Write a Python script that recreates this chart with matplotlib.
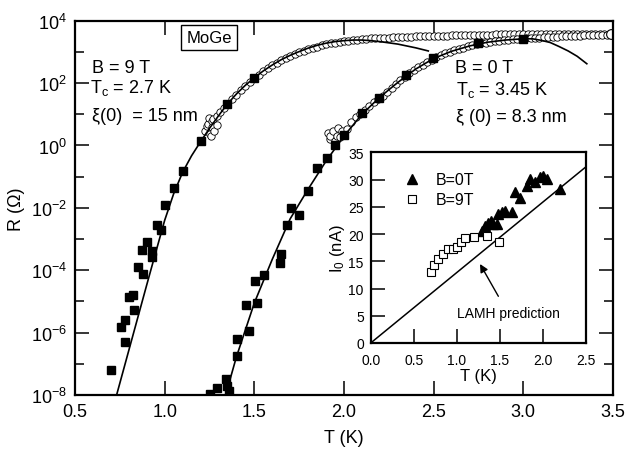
import matplotlib
matplotlib.use('Agg')
import matplotlib.pyplot as plt
import numpy as np
from matplotlib.ticker import FixedLocator, FuncFormatter, NullFormatter

plt.rcParams['font.family'] = ['Liberation Sans', 'DejaVu Sans']
plt.rcParams['mathtext.fontset'] = 'custom'
plt.rcParams['mathtext.rm'] = 'Liberation Sans'
plt.rcParams['mathtext.it'] = 'Liberation Sans:italic'
plt.rcParams['mathtext.sf'] = 'Liberation Sans'

# ---------------- main panel data (log10 R) ----------------
# B = 9 T, filled squares
sq9_T = [0.701, 0.779, 0.755, 0.779, 0.829, 0.803, 0.825, 0.878, 0.853, 0.928, 0.928,
         0.875, 0.903, 0.978, 0.956, 1.002, 1.054, 1.104, 1.201, 1.349, 1.498]
sq9_logR = [-7.19, -6.29, -5.83, -5.58, -5.27, -4.85, -4.81, -4.12, -3.90, -3.58, -3.39,
            -3.34, -3.10, -2.70, -2.55, -1.91, -1.36, -0.81, 0.13, 1.33, 2.16]

# B = 0 T, filled squares
sq0_T = [1.253, 1.290, 1.342, 1.350, 1.358, 1.402, 1.402, 1.470, 1.452, 1.517, 1.504,
         1.554, 1.643, 1.649, 1.682, 1.751, 1.703, 1.801, 1.851, 1.903, 1.950, 2.001,
         2.099, 2.197, 2.348, 2.498, 2.749, 2.999]
sq0_logR = [-7.96, -7.78, -7.50, -7.72, -7.88, -6.74, -6.22, -5.95, -5.13, -5.05, -4.34,
            -4.15, -3.78, -3.48, -2.55, -2.23, -2.00, -1.47, -0.72, -0.41, 0.02, 0.34,
            1.04, 1.52, 2.26, 2.79, 3.28, 3.41]

# B = 9 T, open circles (high-R measurement)
ci9_T = [1.225, 1.234, 1.240, 1.247, 1.253, 1.258, 1.262, 1.266, 1.271, 1.275, 1.290, 1.294,
         1.309, 1.333,
         1.350, 1.375, 1.400, 1.425, 1.450, 1.475, 1.500, 1.525, 1.550, 1.575, 1.600, 1.625,
         1.650, 1.675, 1.700, 1.725, 1.750, 1.775, 1.800, 1.825, 1.850, 1.875, 1.900, 1.925,
         1.950, 1.975, 2.000, 2.025, 2.050, 2.075, 2.100, 2.125, 2.150, 2.175, 2.200, 2.225,
         2.250, 2.275, 2.300, 2.325, 2.350, 2.375, 2.400, 2.425, 2.450, 2.475, 2.500, 2.525,
         2.550, 2.575, 2.600, 2.625, 2.650, 2.675, 2.700, 2.725, 2.750, 2.775, 2.800, 2.825,
         2.850, 2.875, 2.900, 2.925, 2.950, 2.975, 3.000, 3.025, 3.050, 3.075, 3.100, 3.125,
         3.150, 3.175, 3.200, 3.225, 3.250, 3.275, 3.300, 3.325, 3.350, 3.375, 3.400, 3.425,
         3.450, 3.475, 3.500]
ci9_logR = [0.47, 0.63, 0.69, 0.88, 0.37, 0.31, 0.79, 0.60, 0.85, 0.47, 0.96, 0.66,
            1.06, 1.19,
            1.33, 1.48, 1.63, 1.77, 1.91, 2.04, 2.16, 2.27, 2.38, 2.48, 2.57, 2.65,
            2.73, 2.80, 2.87, 2.93, 2.99, 3.04, 3.09, 3.13, 3.17, 3.21, 3.24, 3.27,
            3.30, 3.32, 3.34, 3.36, 3.38, 3.39, 3.41, 3.42, 3.43, 3.44, 3.45, 3.46,
            3.46, 3.47, 3.48, 3.48, 3.49, 3.49, 3.50, 3.50, 3.51, 3.51, 3.51, 3.52,
            3.52, 3.52, 3.53, 3.53, 3.53, 3.54, 3.54, 3.54, 3.55, 3.55, 3.55, 3.55,
            3.56, 3.56, 3.56, 3.56, 3.56, 3.56, 3.57, 3.57, 3.57, 3.57, 3.57, 3.57,
            3.57, 3.57, 3.58, 3.58, 3.58, 3.58, 3.58, 3.58, 3.58, 3.58, 3.58, 3.58,
            3.58, 3.58, 3.58]

# B = 0 T, open circles
ci0_T = [1.913, 1.922, 1.922, 1.941, 1.950, 1.959, 1.969, 1.978, 1.987,
         2.015, 2.040, 2.065, 2.090, 2.115, 2.140, 2.165, 2.190, 2.215, 2.240, 2.265,
         2.290, 2.315, 2.340, 2.365, 2.390, 2.415, 2.440, 2.465, 2.490, 2.515, 2.540,
         2.565, 2.590, 2.615, 2.640, 2.665, 2.690, 2.715, 2.740, 2.765, 2.790, 2.815,
         2.840, 2.865, 2.890, 2.915, 2.940, 2.965, 2.990, 3.015, 3.040, 3.065, 3.090,
         3.115, 3.140, 3.165, 3.190, 3.215, 3.240, 3.265, 3.290, 3.315, 3.340, 3.365,
         3.390, 3.415, 3.440, 3.465, 3.490]
ci0_logR = [0.40, 0.21, 0.31, 0.47, 0.15, 0.31, 0.55, 0.26, 0.47,
            0.53, 0.74, 0.90, 1.02, 1.15, 1.27, 1.38, 1.49, 1.60, 1.72, 1.85,
            1.97, 2.09, 2.21, 2.31, 2.41, 2.50, 2.59, 2.67, 2.75, 2.83, 2.89,
            2.95, 3.00, 3.05, 3.10, 3.14, 3.18, 3.21, 3.24, 3.27, 3.30, 3.32,
            3.34, 3.36, 3.37, 3.39, 3.40, 3.41, 3.42, 3.43, 3.44, 3.45, 3.46,
            3.47, 3.48, 3.49, 3.49, 3.50, 3.51, 3.51, 3.52, 3.52, 3.53, 3.53,
            3.54, 3.54, 3.55, 3.55, 3.56]

# fit curves
fit9_T = [0.732, 0.80, 0.90, 0.95, 1.00, 1.05, 1.10, 1.15, 1.20, 1.25, 1.30, 1.35, 1.40,
          1.45, 1.50, 1.55, 1.60, 1.65, 1.70, 1.75, 1.80, 1.85, 1.90, 1.95, 2.00, 2.05,
          2.10, 2.15, 2.20, 2.25, 2.30, 2.35, 2.40, 2.47]
fit9_logR = [-8.00, -6.57, -4.47, -3.43, -2.40, -1.55, -0.86, -0.33, 0.12, 0.55, 0.95,
             1.33, 1.65, 1.93, 2.17, 2.39, 2.58, 2.75, 2.89, 3.01, 3.12, 3.21, 3.28,
             3.33, 3.36, 3.38, 3.38, 3.36, 3.33, 3.29, 3.25, 3.19, 3.13, 3.03]

fit0_T = [1.340, 1.40, 1.50, 1.60, 1.70, 1.80, 1.90, 2.00, 2.10, 2.20, 2.30, 2.40, 2.50,
          2.60, 2.70, 2.80, 2.90, 3.00, 3.05, 3.10, 3.15, 3.20, 3.25, 3.30, 3.354]
fit0_logR = [-8.00, -6.78, -5.05, -3.65, -2.35, -1.40, -0.50, 0.30, 1.00, 1.55, 2.02,
             2.45, 2.79, 3.02, 3.19, 3.31, 3.38, 3.42, 3.42, 3.37, 3.30, 3.17, 3.03,
             2.86, 2.62]

# ---------------- inset data ----------------
I0_T = [1.290, 1.329, 1.368, 1.399, 1.426, 1.465, 1.484, 1.523, 1.562, 1.640, 1.678,
        1.736, 1.814, 1.852, 1.910, 1.969, 2.007, 2.047, 2.201]
I0_nA = [20.6, 21.5, 22.1, 22.4, 21.8, 21.8, 23.7, 24.0, 24.3, 24.0, 27.7,
         26.7, 28.9, 30.1, 29.5, 30.4, 30.7, 30.1, 28.3]
I9_T = [0.701, 0.740, 0.786, 0.845, 0.903, 0.961, 1.007, 1.046, 1.097, 1.201, 1.349, 1.496]
I9_nA = [13.1, 14.4, 15.4, 16.3, 17.3, 17.3, 17.7, 18.6, 19.3, 19.4, 19.7, 18.5]
lamh_T = [0.0, 2.5]
lamh_nA = [0.0, 32.3]

x_ticks = [0.5, 1.0, 1.5, 2.0, 2.5, 3.0, 3.5]
inset_xticks = [0.0, 0.5, 1.0, 1.5, 2.0, 2.5]
inset_yticks = [0, 5, 10, 15, 20, 25, 30, 35]


def R(v):
    return 10.0 ** np.asarray(v)


fig = plt.figure(figsize=(6.26, 4.56), dpi=100)
ax = fig.add_axes([75 / 626, 1 - 396 / 456, 538 / 626, 374.3 / 456])

ax.plot(ci9_T, R(ci9_logR), 'o', ms=5.3, mfc='white', mec='black', mew=0.6, zorder=2)
ax.plot(ci0_T, R(ci0_logR), 'o', ms=5.3, mfc='white', mec='black', mew=0.6, zorder=2)
ax.plot(ci0_T[-1:], R(ci0_logR[-1:]), 'o', ms=7, mfc='white', mec='black', mew=0.8, zorder=2)
ax.plot(fit9_T, R(fit9_logR), '-', color='black', lw=1.2, zorder=3)
ax.plot(fit0_T, R(fit0_logR), '-', color='black', lw=1.2, zorder=3)
ax.plot(sq9_T, R(sq9_logR), 's', ms=6, color='black', zorder=4)
ax.plot(sq0_T, R(sq0_logR), 's', ms=6, color='black', zorder=4)

ax.set_yscale('log')
ax.set_xlim(0.5, 3.5)
ax.set_ylim(1e-8, 1e4)
ax.xaxis.set_major_locator(FixedLocator(x_ticks))
ax.set_xticklabels(['%.1f' % v for v in x_ticks])
ax.yaxis.set_major_locator(FixedLocator([10.0 ** e for e in range(-8, 5, 2)]))
ax.yaxis.set_minor_locator(FixedLocator([10.0 ** e for e in range(-7, 4, 2)]))
ax.yaxis.set_major_formatter(FuncFormatter(
    lambda v, p: r'$\mathregular{10^{%d}}$' % int(round(np.log10(v)))))
ax.yaxis.set_minor_formatter(NullFormatter())
ax.tick_params(which='both', direction='in', top=True, right=True, labelsize=13, width=1.1)
ax.tick_params(which='major', length=10, pad=6)
ax.tick_params(which='minor', length=6.5)
for s in ax.spines.values():
    s.set_linewidth(1.6)
ax.set_xlabel('T (K)', fontsize=13, labelpad=6)
ax.set_ylabel('R (Ω)', fontsize=13, labelpad=4)

ax.text(0.249, 0.955, 'MoGe', transform=ax.transAxes, fontsize=12, ha='center', va='center',
        bbox=dict(boxstyle='square,pad=0.3', fc='white', ec='black', lw=1.0))
ax.text(0.031, 0.862, 'B = 9 T', transform=ax.transAxes, fontsize=13, va='baseline')
ax.text(0.028, 0.809, r'T$_\mathregular{c}$ = 2.7 K', transform=ax.transAxes, fontsize=13,
        va='baseline')
ax.text(0.031, 0.734, 'ξ(0)  = 15 nm', transform=ax.transAxes, fontsize=13, va='baseline')
ax.text(0.706, 0.862, 'B = 0 T', transform=ax.transAxes, fontsize=13, va='baseline')
ax.text(0.708, 0.804, r'T$_\mathregular{c}$ = 3.45 K', transform=ax.transAxes, fontsize=13,
        va='baseline')
ax.text(0.708, 0.732, 'ξ (0) = 8.3 nm', transform=ax.transAxes, fontsize=13, va='baseline')

# ---------------- inset ----------------
ins = fig.add_axes([370.7 / 626, 1 - 344 / 456, 215 / 626, 190.7 / 456])
ins.set_facecolor('white')
ins.plot(lamh_T, lamh_nA, '-', color='black', lw=1.1)
ins.plot(I0_T, I0_nA, '^', ms=7.5, color='black', label='B=0T')
ins.plot(I9_T, I9_nA, 's', ms=5.5, mfc='white', mec='black', mew=0.8, label='B=9T')
ins.set_xlim(0, 2.5)
ins.set_ylim(0, 35)
ins.set_xticks(inset_xticks)
ins.set_xticklabels(['%.1f' % v for v in inset_xticks])
ins.set_yticks(inset_yticks)
ins.tick_params(direction='in', length=10, width=1.1, labelsize=10)
ins.tick_params(axis='x', pad=7)
ins.tick_params(axis='y', pad=5)
for s in ins.spines.values():
    s.set_linewidth(1.6)
ins.set_xlabel('T (K)', fontsize=12, labelpad=1)
ins.set_ylabel(r'I$_\mathregular{0}$ (nA)', fontsize=12, labelpad=1)
ins.legend(loc='upper left', bbox_to_anchor=(0.08, 0.97), frameon=False, fontsize=11.5,
           handletextpad=0.9, labelspacing=0.3, handlelength=1.2)
ins.annotate('LAMH prediction', xy=(1.271, 14.5), xytext=(1.597, 5.45), fontsize=10,
             ha='center', va='center',
             arrowprops=dict(arrowstyle='-|>', color='black', lw=1.0, mutation_scale=12,
                             shrinkA=6, shrinkB=0))

fig.savefig('out.png', dpi=100)
